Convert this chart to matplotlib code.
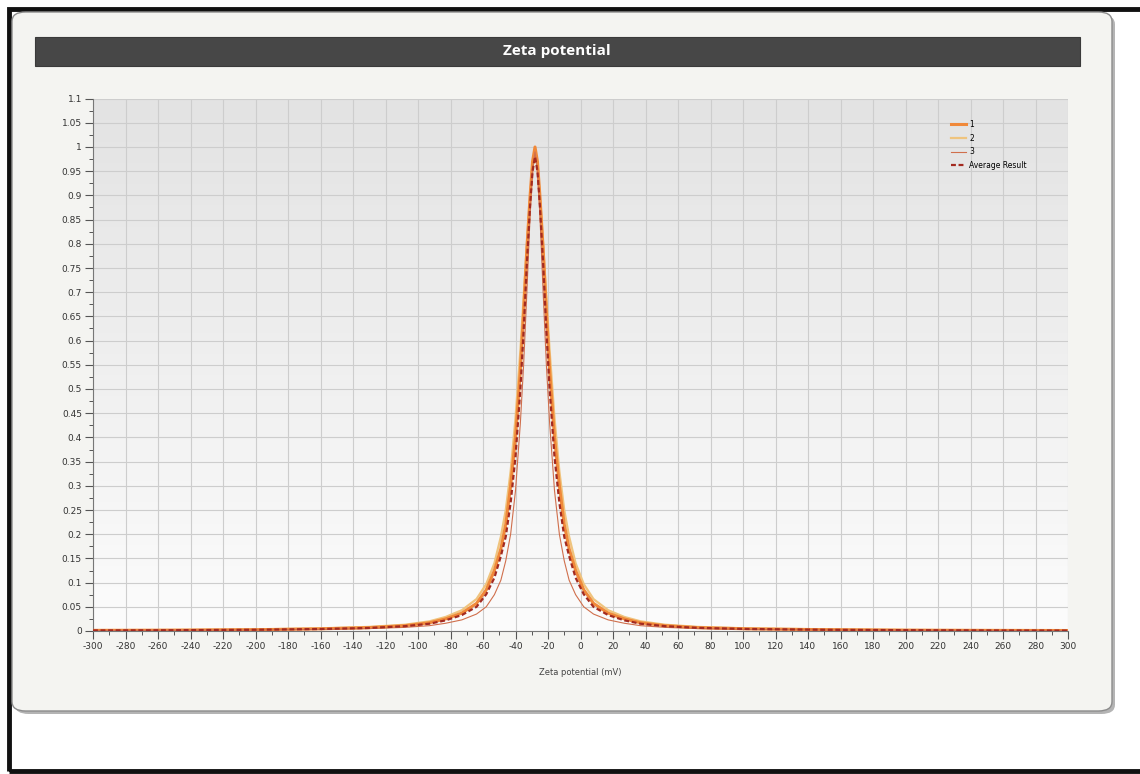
import numpy as np
import matplotlib
matplotlib.use('Agg')
import matplotlib.pyplot as plt
from matplotlib.patches import FancyBboxPatch, Rectangle
from matplotlib.ticker import MultipleLocator

plt.rcParams['axes.unicode_minus'] = False

""" Datos leidos del grafico """
zeta_mv = [-300, -250, -200, -160, -130, -108, -93, -83, -73, -64, -58, -53, -49,
           -46, -43, -40, -37, -35, -33, -31, -29.5, -28,
           -26.5, -25, -23, -21, -19, -16, -13, -10, -7, -3, 2, 8, 17, 27, 37,
           52, 72, 102, 152, 200, 250, 300]

serie_1 = [0.0013, 0.0018, 0.0027, 0.0045, 0.007, 0.011, 0.017, 0.025, 0.037,
           0.057, 0.085, 0.125, 0.17, 0.22, 0.30, 0.40, 0.54, 0.66, 0.79, 0.90,
           0.97, 1.0,
           0.97, 0.90, 0.79, 0.66, 0.54, 0.40, 0.30, 0.22, 0.17, 0.125, 0.085,
           0.057, 0.037, 0.025, 0.017, 0.011, 0.007, 0.0045, 0.0027, 0.0018,
           0.0013, 0.001]

serie_2 = [0.0015, 0.002, 0.0032, 0.0055, 0.0085, 0.013, 0.02, 0.029, 0.043,
           0.066, 0.097, 0.14, 0.195, 0.25, 0.33, 0.44, 0.58, 0.69, 0.80, 0.90,
           0.96, 0.99,
           0.96, 0.90, 0.80, 0.69, 0.58, 0.44, 0.33, 0.25, 0.195, 0.14, 0.097,
           0.066, 0.043, 0.029, 0.02, 0.013, 0.0085, 0.0055, 0.0032, 0.002,
           0.0015, 0.0011]

serie_3 = [0.001, 0.0014, 0.002, 0.0032, 0.005, 0.0075, 0.011, 0.016, 0.023,
           0.035, 0.05, 0.075, 0.105, 0.145, 0.20, 0.29, 0.43, 0.55, 0.70, 0.86,
           0.95, 0.99,
           0.95, 0.86, 0.70, 0.55, 0.43, 0.29, 0.20, 0.145, 0.105, 0.075, 0.05,
           0.035, 0.023, 0.016, 0.011, 0.0075, 0.005, 0.0032, 0.002, 0.0014,
           0.001, 0.0008]

promedio = [0.0012, 0.0016, 0.0026, 0.0041, 0.0063, 0.01, 0.015, 0.022, 0.033,
            0.05, 0.076, 0.11, 0.155, 0.195, 0.265, 0.36, 0.50, 0.62, 0.76, 0.88,
            0.95, 0.98,
            0.95, 0.88, 0.76, 0.62, 0.50, 0.36, 0.265, 0.195, 0.155, 0.11, 0.076,
            0.05, 0.033, 0.022, 0.015, 0.01, 0.0065, 0.0042, 0.0025, 0.0017,
            0.0012, 0.0009]

nombres = ['1', '2', '3', 'Average Result']
x_ticks = np.arange(-300, 301, 20)
y_ticks = np.round(np.arange(0, 1.101, 0.05), 2)

""" Figura """
W, H = 1140, 774
fig = plt.figure(figsize=(W / 100, H / 100), dpi=100)
fig.patch.set_facecolor('white')

def fx(px):
    return px / W

def fy(py):
    return 1 - py / H

# marco negro
fig.patches.append(Rectangle((fx(9), fy(771)), 1.2, fy(9) - fy(771), transform=fig.transFigure,
                             facecolor='none', edgecolor='#111111', lw=3.5, zorder=0))
# sombra y panel
fig.patches.append(FancyBboxPatch((fx(15), fy(714)), fx(1100), fy(15) - fy(714),
                                  boxstyle='round,pad=0,rounding_size=0.012',
                                  transform=fig.transFigure, facecolor='#b4b4b4',
                                  edgecolor='none', zorder=1))
fig.patches.append(FancyBboxPatch((fx(12), fy(711)), fx(1100), fy(12) - fy(711),
                                  boxstyle='round,pad=0,rounding_size=0.012',
                                  transform=fig.transFigure, facecolor='#f4f4f1',
                                  edgecolor='#8c8c8c', lw=1.0, zorder=2))
# barra de titulo
fig.patches.append(Rectangle((fx(35), fy(66)), fx(1045), fy(37) - fy(66),
                             transform=fig.transFigure, facecolor='#474747',
                             edgecolor='#3a3a3a', lw=0.8, zorder=3))
fig.text(fx(557), fy(51), 'Zeta potential', color='white', fontsize=11,
         fontweight='bold', ha='center', va='center', family='Open Sans', zorder=4)

ax = fig.add_axes([fx(93), fy(631), fx(975), fy(98.6) - fy(631)])
ax.set_zorder(5)
ax.patch.set_alpha(0)

# fondo degradado
grad = np.linspace(0, 1, 256).reshape(-1, 1)
ax.imshow(grad, extent=[-300, 300, 0, 1.1], aspect='auto', origin='lower',
          cmap=matplotlib.colors.LinearSegmentedColormap.from_list('g', ['#fcfcfc', '#e3e3e3']),
          zorder=0)

ax.plot(zeta_mv, serie_2, color='#efc47e', lw=1.6, label=nombres[1], zorder=3)
ax.plot(zeta_mv, serie_1, color='#f0893a', lw=2.2, label=nombres[0], zorder=4)
ax.plot(zeta_mv, serie_3, color='#d06f4c', lw=0.8, label=nombres[2], zorder=5)
ax.plot(zeta_mv, promedio, color='#a32a20', lw=1.6, ls=(0, (2.2, 1.2)),
        label=nombres[3], zorder=6)

ax.set_xlim(-300, 300)
ax.set_ylim(0, 1.1)
ax.set_xticks(x_ticks)
ax.set_yticks(y_ticks)
ax.set_yticklabels(['0' if v == 0 else ('1' if v == 1 else f'{v:g}') for v in y_ticks])
ax.xaxis.set_minor_locator(MultipleLocator(10))
ax.yaxis.set_minor_locator(MultipleLocator(0.025))
ax.grid(which='major', color='#cdcdcd', lw=0.8, zorder=1)
ax.set_axisbelow(True)
ax.tick_params(which='major', direction='out', length=6, width=0.8, color='#555555',
               labelsize=6.5, labelcolor='#333333', pad=2)
ax.tick_params(which='minor', direction='out', length=3, width=0.7, color='#555555')
for s in ['top', 'right']:
    ax.spines[s].set_visible(False)
for s in ['left', 'bottom']:
    ax.spines[s].set_color('#777777')
    ax.spines[s].set_linewidth(0.8)

ax.set_xlabel('Zeta potential (mV)', fontsize=6, color='#444444', labelpad=12)

h, l = ax.get_legend_handles_labels()
orden = [l.index(n) for n in nombres]
fig.legend([h[i] for i in orden], [l[i] for i in orden], loc='upper left',
           bbox_to_anchor=(fx(948), fy(117)), frameon=False, fontsize=5.5,
           handlelength=2.0, handletextpad=0.4, labelspacing=0.6, borderaxespad=0)

fig.savefig('out.png', dpi=100)
